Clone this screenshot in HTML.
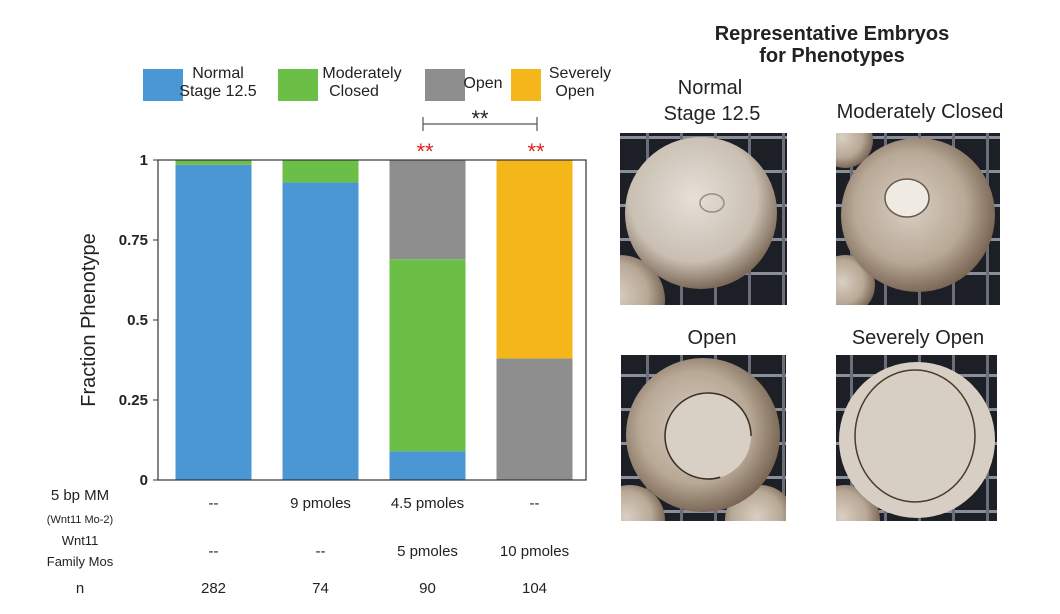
<!DOCTYPE html>
<html><head><meta charset="utf-8"><style>
body{margin:0;background:#fff;font-family:"Liberation Sans",Arial,sans-serif}
svg{display:block}
</style></head><body>
<svg id="fig" width="1060" height="614" viewBox="0 0 1060 614" xmlns="http://www.w3.org/2000/svg" font-family="Liberation Sans, Arial, sans-serif">
<defs>
<radialGradient id="egg" cx="45%" cy="40%" r="60%"><stop offset="0" stop-color="#e6e0d8"/><stop offset="0.7" stop-color="#c9bfb2"/><stop offset="1" stop-color="#7d6a58"/></radialGradient>
<radialGradient id="egg2" cx="45%" cy="45%" r="60%"><stop offset="0" stop-color="#d9cfc3"/><stop offset="0.6" stop-color="#b8a896"/><stop offset="1" stop-color="#6e5a48"/></radialGradient>
<pattern id="grid" width="34" height="34" patternUnits="userSpaceOnUse"><rect width="34" height="34" fill="#1c1f26"/><rect x="0" y="0" width="34" height="3" fill="#8a8e98"/><rect x="0" y="0" width="3" height="34" fill="#6a6e78"/></pattern>
<clipPath id="c1"><rect x="620" y="133" width="167" height="172"/></clipPath>
<clipPath id="c2"><rect x="836" y="133" width="164" height="172"/></clipPath>
<clipPath id="c3"><rect x="621" y="355" width="165" height="166"/></clipPath>
<clipPath id="c4"><rect x="836" y="355" width="161" height="166"/></clipPath>
</defs>
<g font-size="16" fill="#222" text-anchor="middle">
<rect x="143" y="69" width="40" height="32" fill="#4a97d3"/>
<text x="218" y="78">Normal</text><text x="218" y="96">Stage 12.5</text>
<rect x="278" y="69" width="40" height="32" fill="#6bbf46"/>
<text x="362" y="78">Moderately</text><text x="354" y="96">Closed</text>
<rect x="425" y="69" width="40" height="32" fill="#8e8e8e"/>
<text x="483" y="88">Open</text>
<rect x="511" y="69" width="30" height="32" fill="#f4b619"/>
<text x="580" y="78">Severely</text><text x="575" y="96">Open</text>
</g>
<g>
<path d="M423 117V131M423 124H537M537 117V131" stroke="#555" stroke-width="1.2" fill="none"/>
<text x="480" y="126" font-size="22" text-anchor="middle" fill="#222">**</text>
<text x="425" y="159" font-size="22" text-anchor="middle" fill="#d22">**</text>
<text x="536" y="159" font-size="22" text-anchor="middle" fill="#d22">**</text>
</g>
<g id="chart"></g>
<text transform="translate(95 320) rotate(-90)" font-size="20" text-anchor="middle" fill="#222">Fraction Phenotype</text>
<g fill="#222" text-anchor="middle" font-size="15">
<text x="80" y="500" font-size="15">5 bp MM</text>
<text x="80" y="523" font-size="11">(Wnt11 Mo-2)</text>
<text x="80" y="545" font-size="13">Wnt11</text>
<text x="80" y="566" font-size="13">Family Mos</text>
<text x="80" y="593" font-size="15">n</text>
</g>
<g id="rows" font-size="15" text-anchor="middle" fill="#222"></g>
<g text-anchor="middle" fill="#222">
<text x="832" y="40" font-size="20" font-weight="bold">Representative Embryos</text>
<text x="832" y="62" font-size="20" font-weight="bold">for Phenotypes</text>
<text x="710" y="94" font-size="20">Normal</text><text x="712" y="120" font-size="20">Stage 12.5</text>
<text x="920" y="118" font-size="20">Moderately Closed</text>
<text x="712" y="344" font-size="20">Open</text>
<text x="918" y="344" font-size="20">Severely Open</text>
</g>
<g clip-path="url(#c1)">
<rect x="620" y="133" width="167" height="172" fill="url(#grid)"/>
<circle cx="620" cy="300" r="45" fill="url(#egg2)"/>
<circle cx="701" cy="213" r="76" fill="url(#egg)"/>
<ellipse cx="712" cy="203" rx="12" ry="9" fill="none" stroke="#9a8d7e" stroke-width="1.5"/>
</g>
<g clip-path="url(#c2)">
<rect x="836" y="133" width="164" height="172" fill="url(#grid)"/>
<circle cx="845" cy="140" r="28" fill="url(#egg2)"/>
<circle cx="845" cy="285" r="30" fill="url(#egg2)"/>
<circle cx="918" cy="215" r="77" fill="url(#egg2)"/>
<ellipse cx="907" cy="198" rx="22" ry="19" fill="#efeae2" stroke="#6a5a4a" stroke-width="1.5"/>
</g>
<g clip-path="url(#c3)">
<rect x="621" y="355" width="165" height="166" fill="url(#grid)"/>
<circle cx="630" cy="520" r="35" fill="url(#egg2)"/>
<circle cx="760" cy="520" r="35" fill="url(#egg2)"/>
<circle cx="703" cy="435" r="77" fill="url(#egg2)"/>
<circle cx="708" cy="436" r="43" fill="#d9d0c5" stroke="#3a2c20" stroke-width="1.5" stroke-dasharray="0 55 200"/>
</g>
<g clip-path="url(#c4)">
<rect x="836" y="355" width="161" height="166" fill="url(#grid)"/>
<circle cx="845" cy="520" r="35" fill="url(#egg2)"/>
<circle cx="917" cy="440" r="78" fill="#d8cfc4"/>
<ellipse cx="915" cy="436" rx="60" ry="66" fill="none" stroke="#4a3a2c" stroke-width="1.5"/>
</g>
</svg>
<script>
const categories=["ctrl","5bpMM","mix","family"];
const normalVals=[0.985,0.93,0.09,0];
const moderateVals=[0.015,0.07,0.60,0];
const openVals=[0,0,0.31,0.38];
const severeVals=[0,0,0,0.62];
const yTicks=[0,0.25,0.5,0.75,1];
const yTickLabels=["0","0.25","0.5","0.75","1"];
const row1=["--","9 pmoles","4.5 pmoles","--"];
const row2=["--","--","5 pmoles","10 pmoles"];
const nVals=["282","74","90","104"];
const NS="http://www.w3.org/2000/svg";
const x0=158,x1=586,yTop=160,yBot=480;
const y=v=>yBot-v*(yBot-yTop);
const band=(x1-x0)/categories.length;
const xc=i=>x0+band*(i+0.5)+2;
const bw=76;
const g=document.getElementById('chart');
function mk(tag,attrs,parent){const e=document.createElementNS(NS,tag);for(const k in attrs)e.setAttribute(k,attrs[k]);parent.appendChild(e);return e;}
const series=[[normalVals,"#4a97d3","normal"],[moderateVals,"#6bbf46","moderately-closed"],[openVals,"#8e8e8e","open"],[severeVals,"#f4b619","severely-open"]];
categories.forEach((c,i)=>{let acc=0;series.forEach(([vals,col,nm])=>{const v=vals[i];if(v>0){const r=mk('rect',{x:xc(i)-bw/2,y:y(acc+v),width:bw,height:y(acc)-y(acc+v),fill:col},g);

}acc+=v;});});
const frame=mk('rect',{x:x0,y:yTop,width:x1-x0,height:yBot-yTop,fill:'none',stroke:'#333','stroke-width':1.2},g);


yTicks.forEach((t,i)=>{mk('line',{x1:x0-5,x2:x0,y1:y(t),y2:y(t),stroke:'#333'},g);
const tx=mk('text',{x:x0-10,y:y(t)+5,'text-anchor':'end','font-size':15,'font-weight':'bold',fill:'#222'},g);tx.textContent=yTickLabels[i];

});
const rows=document.getElementById('rows');
[[row1,508],[row2,556],[nVals,593]].forEach(([arr,yy])=>arr.forEach((s,i)=>{const t=mk('text',{x:xc(i),y:yy},rows);t.textContent=s;

}));
</script>
</body></html>
